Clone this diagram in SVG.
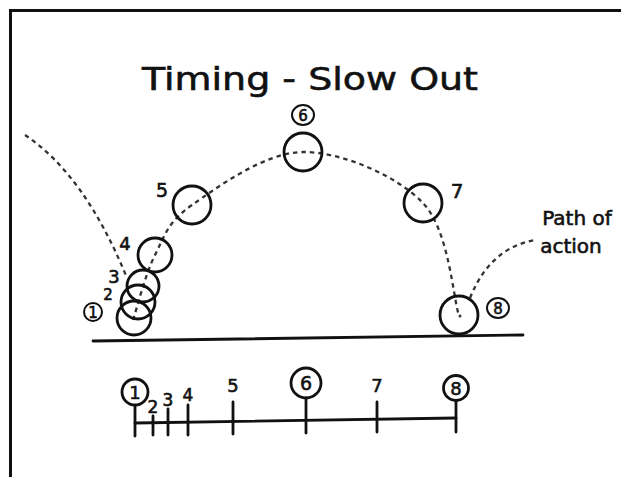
<svg xmlns="http://www.w3.org/2000/svg" width="621" height="477" viewBox="0 0 621 477">
<style>
.ball{fill:none;stroke:#111;stroke-width:2.8}
.ring{fill:none;stroke:#111;stroke-width:2}
.dash{fill:none;stroke:#333;stroke-width:2.3;stroke-dasharray:4.5 4}
.line{fill:none;stroke:#111;stroke-width:2.8;stroke-linecap:round}
.t{font-family:"DejaVu Sans","Liberation Sans",sans-serif;fill:#111;stroke:#111;stroke-width:0.6;text-anchor:middle}
</style>
<rect width="621" height="477" fill="#fff"/>
<g id="frame">
<path d="M9 10.5H621M10.5 10V477" stroke="#111" stroke-width="3" fill="none"/>
</g>
<text class="t" x="310" y="90" font-size="32" textLength="336" lengthAdjust="spacingAndGlyphs">Timing - Slow Out</text>
<g id="connectors">
<path class="dash" d="M25 135Q85 175 127 278"/>
<path class="dash" d="M133 320C136.7 309.2 145.2 274.2 155 255C164.8 235.8 167.3 222.2 192 205C216.7 187.8 264.5 152.3 303 152C341.5 151.7 397 175.7 423 203C449 230.3 453 297.2 459 316"/>
<path class="dash" d="M470 298Q490 248 535 240"/>
<path class="line" d="M93 341L523 335" stroke-width="3.2"/>
</g>
<g id="ball1"><circle class="ball" cx="134" cy="318" r="17"/><ellipse class="ring" cx="93" cy="312" rx="9" ry="9"/><text class="t" x="93" y="318" font-size="15">1</text></g>
<g id="ball2"><circle class="ball" cx="138" cy="302" r="17"/><text class="t" x="108" y="300" font-size="15">2</text></g>
<g id="ball3"><circle class="ball" cx="143" cy="286" r="16"/><text class="t" x="114" y="283" font-size="18">3</text></g>
<g id="ball4"><circle class="ball" cx="155" cy="255" r="17"/><text class="t" x="125" y="250" font-size="18">4</text></g>
<g id="ball5"><circle class="ball" cx="192" cy="205" r="19"/><text class="t" x="162" y="197" font-size="19">5</text></g>
<g id="ball6"><circle class="ball" cx="303" cy="152" r="19"/><ellipse class="ring" cx="303" cy="115" rx="11" ry="10"/><text class="t" x="303" y="121" font-size="15">6</text></g>
<g id="ball7"><circle class="ball" cx="423" cy="203" r="19"/><text class="t" x="457" y="198" font-size="20">7</text></g>
<g id="ball8"><circle class="ball" cx="459" cy="315" r="19"/><circle cx="460" cy="316" r="1.5" fill="#333"/><ellipse class="ring" cx="498" cy="308" rx="11" ry="10"/><text class="t" x="498" y="314" font-size="15">8</text></g>
<g id="label-path"><text class="t" x="577" y="225" font-size="20">Path of</text><text class="t" x="571" y="253" font-size="20">action</text></g>
<g id="timeline">
<path class="line" d="M135 423L456 418"/>
<path class="line" d="M135 406V436M153 416V435M168 409V435M188 405V435M233 402V434M306 398V433M377 402V432M456 401V432"/>
<circle class="ball" cx="135" cy="392" r="13"/><text class="t" x="135" y="399" font-size="18">1</text>
<text class="t" x="153" y="413" font-size="17">2</text>
<text class="t" x="168" y="406" font-size="17">3</text>
<text class="t" x="188" y="401" font-size="17">4</text>
<text class="t" x="233" y="392" font-size="18">5</text>
<circle class="ball" cx="306" cy="383" r="15"/><text class="t" x="306" y="390" font-size="19">6</text>
<text class="t" x="377" y="392" font-size="18">7</text>
<circle class="ball" cx="456" cy="388" r="12.5"/><text class="t" x="456" y="395" font-size="18">8</text>
</g>
</svg>
